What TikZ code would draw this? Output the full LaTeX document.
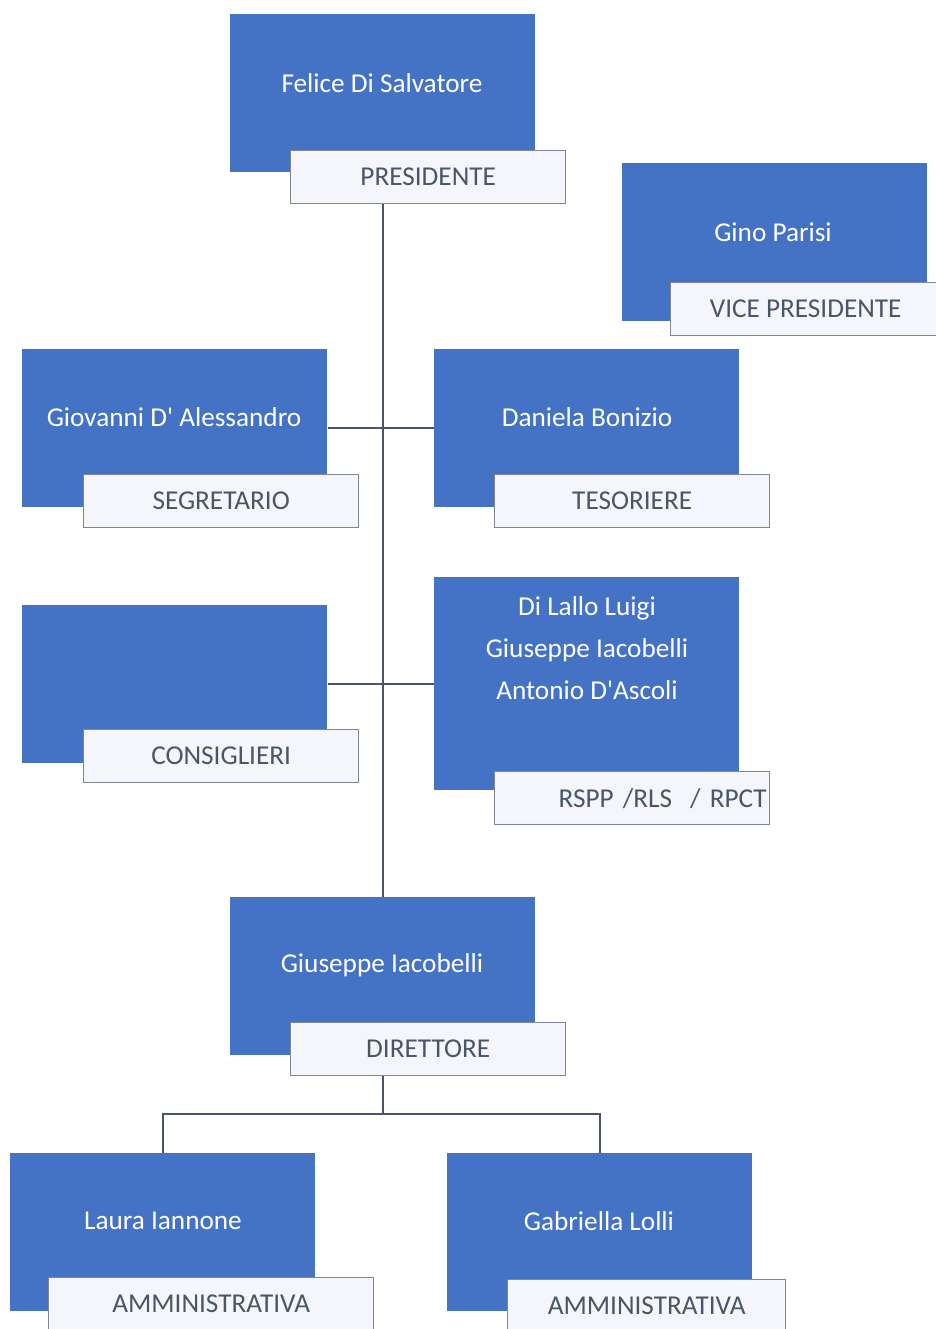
\documentclass[tikz,border=0pt]{standalone}
\usepackage{fontspec}
\setmainfont{Carlito}
\definecolor{boxblu}{HTML}{4472C4}
\definecolor{linea}{HTML}{4A5470}
\definecolor{etich}{HTML}{F4F6FB}
\definecolor{bordo}{HTML}{7F8796}
\definecolor{testo}{HTML}{4A5568}

\begin{document}
\begin{tikzpicture}[x=0.02cm,y=-0.02cm,font=\fontsize{15.5}{19}\selectfont,
  blu/.style={fill=boxblu,draw=none,inner sep=0pt,anchor=north west,
    minimum width=6.1cm,minimum height=3.16cm},
  ruolo/.style={fill=etich,draw=bordo,line width=0.8pt,inner sep=0pt,anchor=north west,
    minimum width=5.5cm,minimum height=1.06cm,text=testo},
  nome/.style={text=white,align=center},
  filo/.style={draw=linea,line width=1pt}]

\useasboundingbox (0,0) rectangle (936,1329);
\clip (0,0) rectangle (936,1329);
\fill[white] (0,0) rectangle (936,1329);

%Riquadri
\node[blu] (pres) at (230,14) {};
\node[blu] (vice) at (622,163) {};
\node[blu] (segr) at (22,349) {};
\node[blu] (tes) at (434,349) {};
\node[blu] (cons) at (22,605) {};
\node[blu,minimum height=4.26cm] (rspp) at (434,577) {};
\node[blu] (dir) at (230,897) {};
\node[blu] (amm1) at (10,1153) {};
\node[blu] (amm2) at (447,1153) {};

%Collegamenti
\draw[filo] (pres.south) -- (dir.north);
\draw[filo] (segr) -- (tes);
\draw[filo] (cons.east) -- (cons.east -| rspp.west);
\path (dir.south) -- +(0,58) coordinate (split);
\draw[filo] (dir.south) -- (split);
\draw[filo] (amm1.north) |- (split) -| (amm2.north);

%Nomi
\node[nome] (pres-n) at (382,83) {Felice Di Salvatore};
\node[nome] (vice-n) at (773,232) {Gino Parisi};
\node[nome] (segr-n) at (174,417) {Giovanni D\textquotesingle{} Alessandro};
\node[nome] (tes-n) at (587,417) {Daniela Bonizio};
\node[nome,font=\fontsize{15.5}{23.9}\selectfont] (rspp-n) at (587,648)
  {Di Lallo Luigi\\Giuseppe Iacobelli\\Antonio D\textquotesingle Ascoli};
\node[nome] (dir-n) at (382,965) {Giuseppe Iacobelli};
\node[nome] (amm1-n) at (163,1221) {Laura Iannone};
\node[nome] (amm2-n) at (599,1221) {Gabriella Lolli};

%Ruoli
\node[ruolo] (pres-r) at (290,150) {PRESIDENTE};
\node[ruolo,minimum width=5.4cm] (vice-r) at (670,282) {VICE PRESIDENTE};
\node[ruolo] (segr-r) at (83,474) {SEGRETARIO};
\node[ruolo] (tes-r) at (494,474) {TESORIERE};
\node[ruolo] (cons-r) at (83,729) {CONSIGLIERI};
\node[ruolo,text width=5.38cm,align=right] (rspp-r) at (494,771) {RSPP /RLS \ / RPCT};
\node[ruolo] (dir-r) at (290,1022) {DIRETTORE};
\node[ruolo,minimum width=6.5cm] (amm1-r) at (48,1277) {AMMINISTRATIVA};
\node[ruolo,minimum width=5.56cm] (amm2-r) at (507,1279) {AMMINISTRATIVA};

\end{tikzpicture}
\end{document}
